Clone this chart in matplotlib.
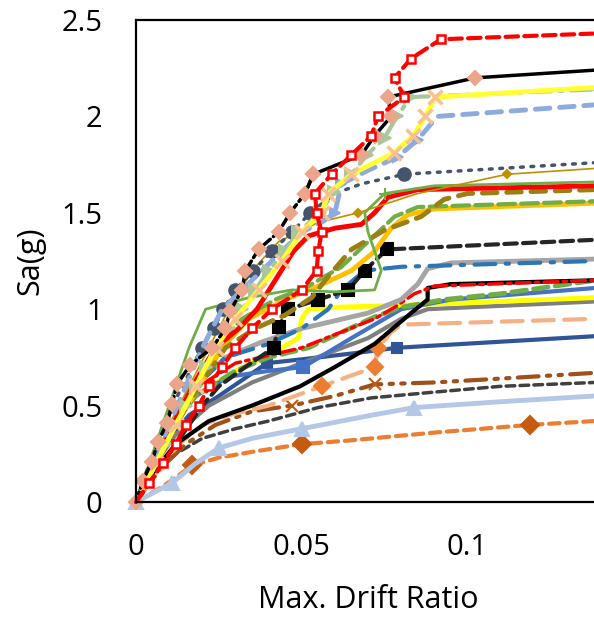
import matplotlib
matplotlib.use("Agg")
import matplotlib.pyplot as plt
from matplotlib.ticker import FuncFormatter

plt.rcParams['font.family'] = ['Open Sans', 'DejaVu Sans']

# ---- data (drift ratio, Sa in g) ----
red_dash_x = [0, .004, .008, .012, .015, .019, .022, .026, .030, .035, .041, .050, .0545, .055, .056, .0545, .054, .059, .065, .071, .073, .081, .078, .083, .092, .1385]
red_dash_y = [0, .1, .2, .3, .4, .5, .6, .7, .8, .9, 1.0, 1.1, 1.2, 1.3, 1.4, 1.5, 1.6, 1.7, 1.8, 1.9, 2.0, 2.1, 2.2, 2.3, 2.4, 2.43]

black_env_x = [0, .0021, .0048, .0066, .0094, .0109, .0124, .0163, .023, .027, .0284, .032, .033, .037, .043, .0465, .051, .0535]
black_env_y = [0, .11, .21, .31, .41, .51, .61, .71, .80, .90, .99, 1.1, 1.2, 1.31, 1.4, 1.5, 1.6, 1.7]
black_top_x = [.051, .0535, .068, .072, .077, .076, .1024, .1385]
black_top_y = [1.6, 1.7, 1.8, 1.9, 2.0, 2.1, 2.2, 2.24]

yellow_x_x = [0, .006, .012, .018, .024, .030, .037, .044, .050, .056, .058, .065, .0777, .0837, .0873, .0903, .1385]
yellow_x_y = [0, .2, .4, .6, .8, .95, 1.1, 1.25, 1.4, 1.5, 1.6, 1.7, 1.81, 1.9, 2.0, 2.1, 2.15]

sage_x = [0, .003, .006, .009, .012, .015, .018, .021, .024, .028, .032, .036, .040, .045, .049, .0556, .0596, .065, .0697, .075, .0788, .0828, .1385]
sage_y = [0, .1, .2, .3, .4, .5, .6, .7, .8, .9, 1.0, 1.1, 1.2, 1.3, 1.4, 1.5, 1.61, 1.7, 1.8, 1.89, 2.0, 2.1, 2.14]

ltblue_x = [0, .005, .010, .015, .020, .026, .032, .038, .044, .050, .056, .060, .062, .070, .079, .085, .091, .1385]
ltblue_y = [0, .2, .4, .6, .8, 1.0, 1.1, 1.2, 1.3, 1.4, 1.45, 1.5, 1.65, 1.72, 1.79, 1.88, 2.0, 2.06]

slate_x = [0, .002, .004, .007, .009, .011, .014, .017, .0198, .0234, .0264, .030, .0354, .041, .047, .0526, .060, .068, .081, .1385]
slate_y = [0, .1, .2, .3, .4, .5, .6, .7, .8, .9, 1.0, 1.1, 1.2, 1.3, 1.4, 1.5, 1.6, 1.65, 1.70, 1.76]

gold_thin_x = [0, .005, .010, .016, .022, .028, .035, .043, .055, .067, .085, .112, .1385]
gold_thin_y = [0, .2, .4, .6, .8, 1.0, 1.2, 1.35, 1.45, 1.5, 1.6, 1.7, 1.73]

green_plus_x = [0, .004, .008, .012, .016, .021, .034, .047, .060, .072, .074, .072, .070, .069, .075, .090, .1385]
green_plus_y = [0, .2, .4, .6, .8, 1.0, 1.06, 1.1, 1.09, 1.1, 1.2, 1.3, 1.4, 1.5, 1.6, 1.64, 1.66]

red_solid_x = [0, .005, .011, .017, .024, .031, .0365, .042, .0475, .052, .060, .068, .072, .076, .085, .1385]
red_solid_y = [0, .2, .4, .6, .8, .9, 1.0, 1.15, 1.3, 1.38, 1.42, 1.44, 1.5, 1.58, 1.62, 1.64]

olive_x = [0, .006, .012, .019, .027, .036, .045, .053, .058, .065, .075, .086, .093, .100, .1385]
olive_y = [0, .2, .4, .6, .8, .9, .97, 1.06, 1.17, 1.31, 1.41, 1.48, 1.57, 1.60, 1.62]

gold_x = [0, .006, .012, .019, .026, .034, .045, .055, .065, .072, .077, .082, .090, .1385]
gold_y = [0, .2, .4, .6, .8, .95, 1.05, 1.12, 1.2, 1.3, 1.42, 1.49, 1.52, 1.55]

green_dash_hi_x = [0, .005, .011, .017, .024, .032, .042, .052, .062, .070, .078, .085, .1385]
green_dash_hi_y = [0, .2, .4, .6, .8, .95, 1.05, 1.12, 1.22, 1.35, 1.48, 1.53, 1.56]

black_sq_x = [0, .004, .008, .012, .016, .020, .025, .033, .0415, .043, .046, .055, .064, .069, .0757, .1385]
black_sq_y = [0, .1, .2, .3, .4, .5, .6, .7, .8, .91, 1.0, 1.05, 1.1, 1.2, 1.31, 1.36]

blue_dd_x = [0, .005, .011, .018, .027, .040, .050, .058, .062, .069, .080, .1385]
blue_dd_y = [0, .2, .4, .6, .75, .82, .9, 1.0, 1.1, 1.2, 1.22, 1.25]

gray_x = [0, .005, .011, .018, .027, .038, .050, .060, .070, .080, .085, .088, .095, .1385]
gray_y = [0, .2, .4, .6, .75, .83, .90, .94, .98, 1.05, 1.13, 1.21, 1.24, 1.26]

black_x = [0, .005, .012, .022, .035, .0495, .060, .072, .083, .088, .088, .095, .1385]
black_y = [0, .15, .3, .42, .5, .6, .7, .82, .98, 1.05, 1.11, 1.13, 1.15]

red_dd_x = [0, .005, .011, .019, .030, .050, .072, .078, .084, .090, .1385]
red_dd_y = [0, .2, .4, .6, .72, .80, .95, 1.01, 1.08, 1.12, 1.15]

blue_x = [0, .005, .011, .018, .028, .040, .0505, .065, .080, .095, .1385]
blue_y = [0, .2, .4, .55, .65, .68, .70, .85, 1.0, 1.05, 1.11]

green_dash_x = [0, .005, .011, .018, .030, .040, .052, .062, .072, .080, .093, .110, .1385]
green_dash_y = [0, .2, .4, .55, .68, .75, .80, .88, .96, 1.01, 1.05, 1.08, 1.15]

yellow_x = [0, .005, .011, .018, .030, .042, .049, .050, .052, .060, .080, .1385]
yellow_y = [0, .2, .4, .55, .68, .78, .85, .95, 1.0, 1.01, 1.02, 1.06]

dkgray_x = [0, .005, .012, .022, .035, .050, .070, .080, .088, .1385]
dkgray_y = [0, .18, .35, .5, .62, .72, .85, .95, 1.0, 1.04]

orange_x = [0, .004, .008, .013, .020, .028, .040, .056, .072, .073, .077, .080, .1385]
orange_y = [0, .1, .2, .3, .4, .45, .5, .6, .7, .8, .88, .92, .95]

navy_x = [0, .004, .009, .016, .025, .0395, .050, .065, .0788, .1385]
navy_y = [0, .15, .3, .45, .55, .72, .74, .77, .80, .86]

brown_x = [0, .004, .009, .015, .024, .035, .047, .060, .072, .090, .110, .1385]
brown_y = [0, .1, .2, .3, .4, .47, .5, .55, .61, .62, .64, .67]

charcoal_x = [0, .006, .012, .020, .030, .040, .055, .071, .090, .110, .1385]
charcoal_y = [0, .15, .25, .33, .38, .42, .49, .54, .57, .60, .62]

lavender_x = [0, .011, .018, .025, .035, .050, .071, .084, .110, .1385]
lavender_y = [0, .1, .2, .28, .33, .38, .45, .49, .52, .55]

orange_low_x = [0, .008, .013, .017, .025, .035, .050, .065, .090, .119, .1385]
orange_low_y = [0, .08, .14, .19, .23, .26, .30, .32, .36, .40, .42]

x_ticks = [0, 0.05, 0.1]
y_ticks = [0, 0.5, 1, 1.5, 2, 2.5]

# ---- figure ----
fig = plt.figure(figsize=(5.94, 6.18), dpi=100)
ax = fig.add_axes([136 / 594, (618 - 502) / 618, (600 - 136) / 594, (502 - 20) / 618])


def draw(x, y, color, lw, dashes=None, marker=None, mfc=None, mec=None, ms=7, mew=1.5, every=None):
    line, = ax.plot(x, y, color=color, lw=lw, marker=marker, ms=ms,
                    mfc=mfc if mfc else color, mec=mec if mec else (mfc if mfc else color),
                    mew=mew, markevery=every, clip_on=False,
                    solid_capstyle='round', dash_capstyle='round')
    if dashes:
        line.set_dashes(dashes)
    return line


# bottom group
draw(orange_low_x, orange_low_y, '#ED7D31', 3, (2.5, 1.6), 'D', '#C55A11', ms=9, every=[3, 6, 9])
draw(lavender_x, lavender_y, '#B4C7E7', 3.5, None, '^', '#B4C7E7', ms=10, every=[0, 1, 3, 5, 7])
draw(charcoal_x, charcoal_y, '#404040', 2.5, (2.5, 1.5))
draw(brown_x, brown_y, '#A0501A', 3, (5, 2, 0.8, 2, 0.8, 2), 'x', '#C55A11', ms=9, mew=1.5, every=[6, 8])
draw(navy_x, navy_y, '#2F5597', 3, None, 's', '#2F5597', ms=7, every=[5, 8])
draw(orange_x, orange_y, '#F4B183', 3, (5, 2.5), 'D', '#ED7D31', ms=8, every=[7, 8, 9])

# middle group
draw(dkgray_x, dkgray_y, '#7F7F7F', 3)
draw(yellow_x, yellow_y, '#FFFF00', 3.5)
draw(blue_x, blue_y, '#4472C4', 3, None, 's', '#4472C4', ms=8, every=[6])
draw(green_dash_x, green_dash_y, '#70AD47', 3.5, (3, 1.5))
draw(black_x, black_y, '#000000', 3)
draw(red_dd_x, red_dd_y, '#FF0000', 2.5, (4, 1.5, 1, 1.5))
draw(gray_x, gray_y, '#A5A5A5', 3.5)
draw(blue_dd_x, blue_dd_y, '#2E75B6', 3, (5, 2.5, 0.8, 2.5))
draw(black_sq_x, black_sq_y, '#262626', 3, (3, 1.5), 's', '#000000', ms=8, every=list(range(8, 15)))

# upper-middle group
draw(gold_x, gold_y, '#FFC000', 3.5)
draw(green_dash_hi_x, green_dash_hi_y, '#70AD47', 3, (4, 1.5))
draw(olive_x, olive_y, '#9C7F12', 3.5, (3, 2))
draw(red_solid_x, red_solid_y, '#FF0000', 3.5)
draw(green_plus_x, green_plus_y, '#70AD47', 2, None, '+', '#70AD47', ms=9, mew=1.5, every=[14])
draw(gold_thin_x, gold_thin_y, '#BF9000', 1.2, None, 'D', '#BF9000', ms=4, every=[9, 11])
draw(slate_x, slate_y, '#44546A', 2.5, (0.8, 2.2), 'o', '#44546A', ms=9, every=list(range(8, 16)) + [18])

# top group
draw(ltblue_x, ltblue_y, '#8FAADC', 3.5, (3, 2), '>', '#8FAADC', ms=7, every=[11, 12, 14, 15])
draw(sage_x, sage_y, '#A9C79B', 3, (5, 2, 0.8, 2), '>', '#A9C79B', ms=9, every=list(range(1, 22)))
draw(yellow_x_x, yellow_x_y, '#FFFF33', 3.5, None, 'x', '#FAC090', ms=10, mew=2.5, every=list(range(1, 16)))
draw(black_env_x, black_env_y, '#000000', 2.5, (3, 1.2), 'D', '#EBA58A', ms=7, every=list(range(0, 18)))
draw(black_top_x, black_top_y, '#000000', 2.5, None, 'D', '#EBA58A', ms=7, every=list(range(0, 7)))
draw(red_dash_x, red_dash_y, '#FF0000', 3, (3, 1.5), 's', 'white', '#FF0000', ms=6, mew=1.8,
     every=list(range(1, 25)))

ax.set_xlim(0, 0.14)
ax.set_ylim(0, 2.5)
ax.set_xticks(x_ticks)
ax.set_yticks(y_ticks)
fmt = FuncFormatter(lambda v, p: f"{v:g}")
ax.xaxis.set_major_formatter(fmt)
ax.yaxis.set_major_formatter(fmt)
ax.tick_params(length=0, labelsize=21, colors='black')
ax.tick_params(axis='y', pad=24)
ax.tick_params(axis='x', pad=22)
for s in ax.spines.values():
    s.set_linewidth(1.6)
    s.set_color('black')
ax.set_xlabel('Max. Drift Ratio', fontsize=22)
ax.set_ylabel('Sa(g)', fontsize=22)
ax.xaxis.set_label_coords(0.5, -0.172)
ax.yaxis.set_label_coords(-0.196, 0.5)

fig.savefig('out.png', dpi=100)
